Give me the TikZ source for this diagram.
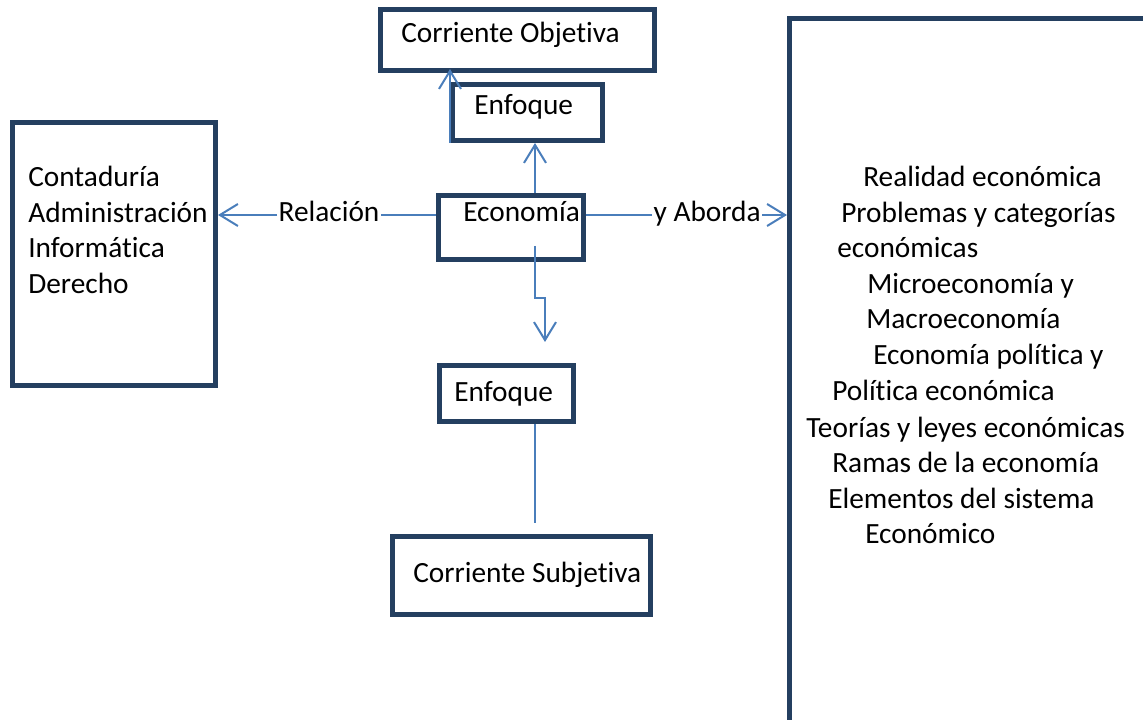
\documentclass[tikz,border=0pt]{standalone}
\usepackage{fontspec}
\setmainfont{Carlito}[Ligatures=NoCommon]
\usetikzlibrary{arrows.meta,calc}
\definecolor{boxc}{HTML}{243F60}
\definecolor{arrc}{HTML}{4A7EBB}
\begin{document}
\begin{tikzpicture}[x=0.75pt,y=-0.75pt,
  font=\fontsize{22pt}{26.8pt}\selectfont,
  box/.style={draw=boxc, line width=3.75pt, inner sep=0pt, rectangle},
  txt/.style={inner sep=0pt, anchor=base west, text=black},
  lab/.style={inner xsep=1pt, inner ysep=0pt, anchor=base west, fill=white, text=black},
  conn/.style={draw=arrc, line width=1.5pt},
  arr/.style={conn, -{Straight Barb[length=13.5pt,width=16.5pt]}},
]
\useasboundingbox (0,0) rectangle (1143,720);
\fill[white] (0,0) rectangle (1143,720);
\clip (0,0) rectangle (1143,720);

% boxes
\node[box, minimum width={274*0.75pt}, minimum height={61*0.75pt}] (co) at (517.5,40) {};
\node[box, minimum width={150*0.75pt}, minimum height={56*0.75pt}] (enf1) at (527.5,112.5) {};
\node[box, minimum width={145*0.75pt}, minimum height={64*0.75pt}] (eco) at (511,227.5) {};
\node[box, minimum width={134*0.75pt}, minimum height={56*0.75pt}] (enf2) at (506.5,393.5) {};
\node[box, minimum width={258*0.75pt}, minimum height={78*0.75pt}] (cs) at (521.5,575.5) {};
\node[box, minimum width={203*0.75pt}, minimum height={263*0.75pt}] (lb) at (114,254) {};
\node[box, minimum width={370.5*0.75pt}, minimum height={721*0.75pt}] (rb) at (974.75,379.5) {};

% texts in boxes
\node[txt] (tco) at (401,43) {Corriente Objetiva};
\node[txt] (te1) at (474,115) {Enfoque};
\node[txt] (teco) at (463,222) {Economía};
\node[txt] (te2) at (454,402) {Enfoque};
\node[txt] (tcs) at (413,582) {Corriente Subjetiva};

\foreach \t [count=\i] in {Contaduría,Administración,Informática,Derecho}
  \node[txt] (l\i) at (28,{186.5+35.7*(\i-1)}) {\t};

\foreach \xx/\yy/\t [count=\i] in {
  863/187/Realidad económica,
  841/223/Problemas y categorías,
  837/258/económicas,
  867/294/Microeconomía y,
  866/329/Macroeconomía,
  873/365/Economía política y,
  832/401/Política económica,
  806/437/Teorías y leyes económicas,
  832/472/Ramas de la economía,
  828/508/Elementos del sistema,
  865/543/Económico}
  \node[txt] (r\i) at (\xx,\yy) {\t};

% helper coordinates
\coordinate (hl) at (0,215);
\coordinate (vx) at (535,0);

% connectors
\draw[arr] (eco.north -| vx) -- (enf1.south -| vx);
\draw[arr] (enf1.south west) -- ($(co.south -| enf1.south west)+(0,-4)$);

\node[lab] (rel) at (277,222) {Relación};
\draw[conn] (eco.west |- hl) -- (rel.east |- hl);
\draw[arr] (rel.west |- hl) -- (lb.east |- hl);

\node[lab] (yab) at (652,222) {y Aborda};
\draw[conn] (eco.east |- hl) -- (yab.west |- hl);
\draw[arr] (yab.east |- hl) -- (rb.west |- hl);

\coordinate (d1) at ($(eco.south -| vx)+(0,-16)$);
\coordinate (d2) at (545,342);
\draw[arr] (d1) -- ++(0,52) -| (d2);

\coordinate (s2) at (535,523);
\draw[conn] (enf2.south -| vx) -- (s2);
\end{tikzpicture}
\end{document}
